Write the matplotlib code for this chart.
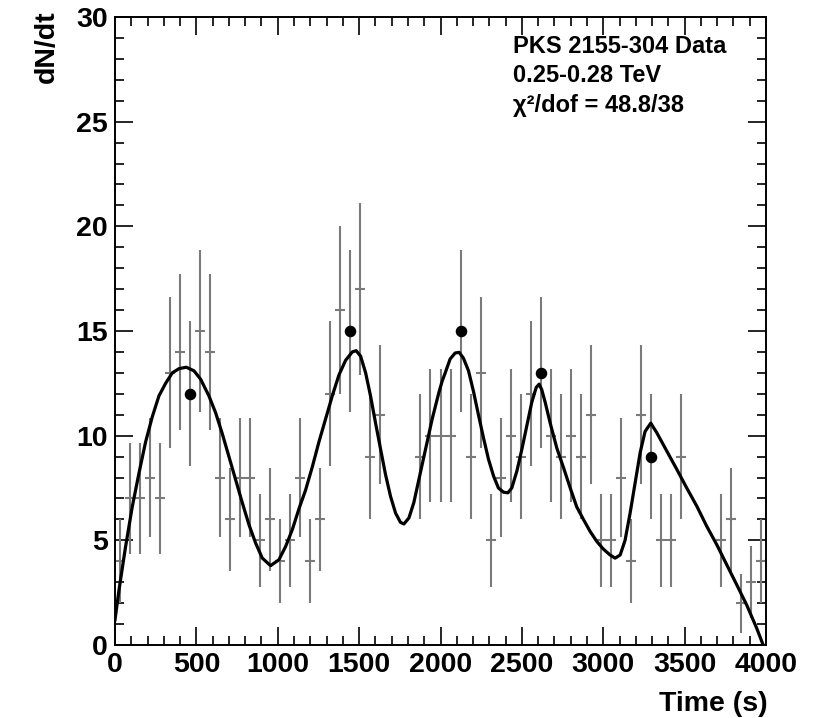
import numpy as np
import matplotlib
matplotlib.use("Agg")
import matplotlib.pyplot as plt
from matplotlib.ticker import MultipleLocator

# counts per time bin (65 bins over 0-4000 s), None = no data in that bin
counts = [4, 7, 7, 8, 7, 13, 14, 12, 15, 14,
          8, 6, 8, 8, 5, 6, 4, 5, 8, 4,
          6, 12, 16, 15, 17, 9, 11, None, None, None,
          9, 10, 10, 10, 15, 9, 13, 5, 8, 10,
          9, 12, 13, 10, 9, 10, 9, 11, 5, 5,
          8, 4, 11, 9, 5, 5, 9, None, None, None,
          5, 6, 2, 3, 4]
t_min, t_max = 0, 4000

# bins marked with a black dot
dot_bins = [7, 23, 34, 42, 53]

# fitted curve
fit_t = [0, 24, 65, 106, 147, 188, 229, 270, 311, 352,
         393, 438, 485, 526, 577, 618, 659, 700, 741, 782,
         823, 864, 905, 956, 1007, 1048, 1089, 1130, 1171, 1212,
         1253, 1294, 1335, 1376, 1417, 1458, 1482, 1509, 1540, 1570,
         1601, 1632, 1662, 1693, 1724, 1754, 1775, 1806, 1836, 1867,
         1908, 1949, 1990, 2010, 2029, 2059, 2090, 2115, 2141, 2172,
         2203, 2233, 2264, 2295, 2326, 2356, 2387, 2414, 2438, 2469,
         2500, 2530, 2561, 2588, 2606, 2622, 2643, 2674, 2715, 2756,
         2797, 2837, 2878, 2919, 2960, 3001, 3042, 3073, 3104, 3134,
         3165, 3196, 3227, 3257, 3292, 3329, 3390, 3452, 3513, 3575,
         3636, 3697, 3759, 3820, 3882, 3943, 3980]
fit_v = [1.2, 2.6, 4.7, 6.6, 8.2, 9.7, 10.9, 11.9, 12.5, 13.0,
         13.2, 13.27, 13.1, 12.7, 11.9, 11.1, 10.1, 9.0, 7.9, 6.8,
         5.75, 4.87, 4.15, 3.79, 4.07, 4.7, 5.5, 6.5, 7.4, 8.5,
         9.7, 10.8, 11.9, 12.9, 13.6, 14.0, 14.06, 13.8, 13.0, 11.9,
         10.6, 9.35, 8.15, 7.1, 6.3, 5.86, 5.78, 6.07, 6.8, 7.9,
         9.35, 10.8, 12.06, 12.6, 13.0, 13.66, 13.95, 13.98, 13.7, 13.1,
         12.1, 11.0, 9.9, 8.87, 8.07, 7.5, 7.3, 7.27, 7.5, 8.3,
         9.35, 10.46, 11.6, 12.3, 12.46, 12.2, 11.6, 10.6, 9.4, 8.47,
         7.5, 6.6, 6.0, 5.43, 4.95, 4.58, 4.3, 4.15, 4.3, 5.0,
         6.3, 7.75, 9.2, 10.2, 10.6, 10.14, 9.27, 8.39, 7.5, 6.63,
         5.67, 4.8, 3.83, 2.88, 1.9, 0.8, 0.05]

info_lines = ["PKS 2155-304 Data", "0.25-0.28 TeV", "\u03c7\u00b2/dof = 48.8/38"]

plt.rcParams['font.family'] = ['Liberation Sans', 'DejaVu Sans']
plt.rcParams['font.weight'] = 'bold'

fig = plt.figure(figsize=(8.26, 7.18), dpi=100)
ax = fig.add_axes([115 / 826, 1 - 645 / 718, 651 / 826, 628 / 718])

n = np.array([np.nan if c is None else c for c in counts], dtype=float)
edges = np.linspace(t_min, t_max, len(counts) + 1)
centers = 0.5 * (edges[:-1] + edges[1:])
half = 0.5 * (edges[1] - edges[0])
ok = ~np.isnan(n)

ax.errorbar(centers[ok], n[ok], xerr=half, yerr=np.sqrt(n[ok]), fmt='none',
            ecolor='#7a7a7a', elinewidth=1.5, capsize=0, zorder=2)
ax.plot(fit_t, fit_v, color='black', lw=2.3, zorder=3, solid_joinstyle='round')
ax.plot(centers[dot_bins], n[dot_bins], 'o', color='black', ms=7.3, zorder=4)

ax.set_xlim(t_min, t_max)
ax.set_ylim(0, 30)
ax.xaxis.set_major_locator(MultipleLocator(500))
ax.xaxis.set_minor_locator(MultipleLocator(100))
ax.yaxis.set_major_locator(MultipleLocator(5))
ax.yaxis.set_minor_locator(MultipleLocator(1))
ax.tick_params(which='both', direction='in', top=True, right=True, width=1.2, labelsize=20.5)
ax.tick_params(which='major', length=13, pad=5)
ax.tick_params(which='minor', length=6.5)
for s in ax.spines.values():
    s.set_linewidth(1.4)

fig.text(768 / 826, 1 - 711 / 718, "Time (s)", ha='right', va='baseline', fontsize=20.5)
fig.text(60 / 826, 1 - 10 / 718, "dN/dt", rotation=90, ha='right', va='top', fontsize=20.5)

for i, line in enumerate(info_lines):
    fig.text(513 / 826, 1 - (53 + 29.5 * i) / 718, line, ha='left', va='baseline', fontsize=17)

fig.savefig("out.png", dpi=100)
